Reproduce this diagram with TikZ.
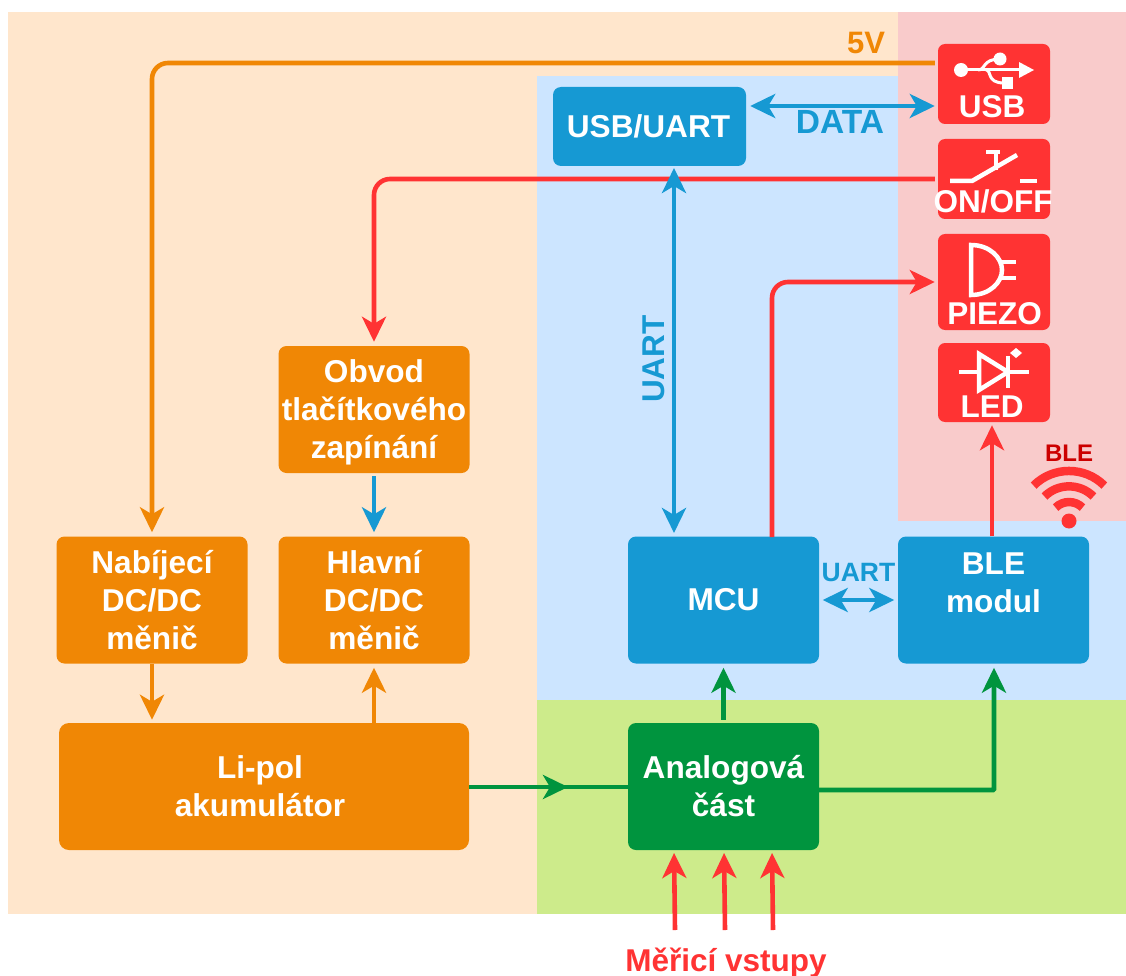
\documentclass[tikz,border=0pt]{standalone}
\usepackage{fontspec}
\setmainfont{Liberation Sans}
\usetikzlibrary{arrows.meta}
\definecolor{bgorange}{HTML}{FFE6CC}
\definecolor{bgblue}{HTML}{CCE5FF}
\definecolor{bgpink}{HTML}{F9CBCB}
\definecolor{bggreen}{HTML}{CDEB8B}
\definecolor{corange}{HTML}{F08705}
\definecolor{cblue}{HTML}{1699D3}
\definecolor{cred}{HTML}{FF3333}
\definecolor{cgreen}{HTML}{00943E}
\definecolor{cdark}{HTML}{CC0000}
\tikzset{
  x=1pt,y=-1pt,
  blocktext/.style={font=\bfseries\fontsize{31.6}{38}\selectfont,text=white,align=center},
  block/.style={blocktext,rounded corners=8pt,inner sep=0pt,minimum width=191pt,minimum height=127pt},
  iconbox/.style={fill=cred,rounded corners=7pt,inner sep=0pt,minimum width=112pt},
  icontext/.style={font=\bfseries\fontsize{31.5}{36}\selectfont,text=white,inner sep=0pt},
  link/.style={line width=4.6pt,rounded corners=16pt,line cap=butt},
  tip/.style={-{Stealth[length=25pt,width=24pt,inset=7pt]}},
  tips/.style={{Stealth[length=25pt,width=24pt,inset=7pt]}-{Stealth[length=25pt,width=24pt,inset=7pt]}},
  gap/.style={shorten >=3.5pt,shorten <=3.5pt},
  sym/.style={draw=white,line width=4.5pt},
  caption/.style={font=\bfseries\fontsize{31.5}{36}\selectfont,inner sep=0pt},
}
\begin{document}
\begin{tikzpicture}
\useasboundingbox (0,0) rectangle (1126,976);
% background regions
\fill[bgorange] (8,12) rectangle (898,76);
\fill[bgorange] (8,76) rectangle (537,914);
\fill[bgblue] (537,76) rectangle (1126,700);
\fill[bggreen] (537,700) rectangle (1126,914);
\fill[bgpink] (898,12) rectangle (1126,521);
% blocks
\node[block,fill=cblue,minimum width=193pt,minimum height=79pt] (usbuart) at (649.5,126.5) {\hspace*{-2pt}\raisebox{-1pt}{USB/UART}};
\node[block,fill=corange] (obvod) at (374,409.5) {Obvod\\tlačítkového\\\smash{zapínání}};
\node[block,fill=corange] (hlavni) at (374,600) {Hlavní\\DC/DC\\měnič};
\node[block,fill=corange] (nabij) at (152,600) {Nabíjecí\\DC/DC\\měnič};
\node[block,fill=corange,minimum width=410pt,rounded corners=10pt] (lipol) at (264,786.5) {\hspace*{-8pt}Li-pol\\\hspace*{-8pt}akumulátor};
\node[block,fill=cblue] (mcu) at (723.5,600) {MCU};
\node[block,fill=cblue] (ble) at (993.5,600) {\rule{0pt}{25pt}BLE\\modul\\\phantom{n}};
\node[block,fill=cgreen] (analog) at (723.5,786.5) {Analogová\\část};
\node[iconbox,minimum height=80pt] (usb) at (994,84) {};
\node[iconbox,minimum height=80pt] (onoff) at (994,179) {};
\node[iconbox,minimum height=96pt] (piezo) at (994,282) {};
\node[iconbox,minimum height=79pt] (led) at (994,382.5) {};
% free ends
\coordinate (in1) at (675,930);
\coordinate (in2) at (725,930);
\coordinate (in3) at (773,930);
% connectors
\draw[link,corange,tip,shorten <=3pt,shorten >=4pt] ([yshift=21pt]usb.west) -- (152,63) -- (nabij.north);
\draw[link,cred,tip,shorten <=3pt,shorten >=4pt] (onoff.west) -- (374,179) -- (obvod.north);
\draw[link,cblue,tips,shorten <=4pt,shorten >=3pt] (usbuart.east |- 0,106) -- (usb.west |- 0,106);
\draw[link,cblue,tips,shorten <=2pt,shorten >=4pt] (674,166) -- (674,537);
\draw[link,cred,tip,shorten >=3pt] (772,537) -- (772,282) -- (piezo.west);
\draw[link,cred,tip,shorten >=3pt] (ble.north -| 992,0) -- (led.south -| 992,0);
\draw[link,cblue,tips,gap] (mcu.east) -- (ble.west);
\draw[link,cblue,tip,shorten <=3pt,shorten >=4pt] (obvod.south) -- (hlavni.north);
\draw[link,corange,tip,shorten >=3pt] (nabij.south) -- (nabij.south |- lipol.north);
\draw[link,corange,tip,shorten >=4pt] (lipol.north -| hlavni.south) -- (hlavni.south);
\draw[link,cgreen] (lipol.east |- 0,787) -- (analog.west |- 0,787);
\draw[link,cgreen,tip] (lipol.east |- 0,787) -- (568,787);
\draw[link,cgreen,tip,shorten <=3pt,shorten >=4pt] (analog.north) -- (mcu.south);
\draw[link,cgreen,tip,rounded corners=1pt,shorten >=4pt] (analog.east |- 0,790) -- (994,790) -- (ble.south -| 994,0);
\draw[link,cred,tip,shorten >=3pt] (in1) -- (674,850);
\draw[link,cred,tip,shorten >=3pt] (in2) -- (724,850);
\draw[link,cred,tip,shorten >=3pt] (in3) -- (772,850);
% labels
\node[caption,font=\bfseries\fontsize{31}{36}\selectfont,text=corange,anchor=base] (l5v) at (866,54) {5V};
\node[caption,font=\bfseries\fontsize{33.5}{38}\selectfont,text=cblue,anchor=base] (ldata) at (840,134) {DATA};
\node[caption,text=cblue,rotate=90,anchor=base] (luart) at (664,359) {UART};
\node[font=\bfseries\fontsize{26.5}{30}\selectfont,text=cblue,anchor=base,inner sep=0pt] (luart2) at (858.5,581) {UART};
\node[font=\bfseries\fontsize{24}{28}\selectfont,text=cdark,anchor=base,inner sep=0pt] (lble) at (1069,461) {BLE};
\node[caption,text=cred,anchor=base] (lmer) at (726,971) {Měřicí vstupy};
\node[icontext,anchor=base] (tusb) at (992,118) {USB};
\node[icontext,anchor=base] (tonoff) at (993,213) {ON/OFF};
\node[icontext,anchor=base] (tpiezo) at (994.5,324) {PIEZO};
\node[icontext,anchor=base] (tled) at (992,417) {LED};
% USB symbol
\fill[white] (961,70) circle (7);
\fill[white] (1000,59) circle (6.5);
\fill[white] (1002,77) rectangle (1013,89);
\fill[white] (1019,62) -- (1034,70) -- (1019,78) -- cycle;
\draw[draw=white,line width=3pt] (961,70) -- (1020,70);
\draw[draw=white,line width=3pt] (978,70) .. controls (986,70) and (982,59) .. (1000,59);
\draw[draw=white,line width=3pt] (986,70) .. controls (992,70) and (986,83) .. (1004,83);
% switch symbol
\draw[sym] (950,181) -- (972,181) -- (1017,155);
\draw[sym] (1020,181) -- (1037,181);
\draw[sym] (986,152) -- (1000,152);
\draw[sym,line width=3.5pt] (996,152) -- (996,170);
% piezo symbol
\draw[sym] (971,245) .. controls (990,245) and (1002,258) .. (1002,270) .. controls (1002,282) and (990,295) .. (971,295) -- cycle;
\draw[sym] (1000,262) -- (1016,262);
\draw[sym] (1000,278) -- (1016,278);
% led symbol
\draw[sym] (959,372) -- (1029,372);
\draw[sym,fill=cred] (979,354) -- (979,390) -- (1008,372) -- cycle;
\draw[sym] (1008,356) -- (1008,388);
\fill[white] (1016,348) -- (1022,353) -- (1016,358) -- (1010,353) -- cycle;
% wireless symbol
\fill[cred] (1069,521) circle (7.5);
\draw[cred,line width=8.5pt] (1069-35.4,521-35.4) arc[start angle=-135,end angle=-45,radius=50];
\draw[cred,line width=8.5pt] (1069-24.5,521-24.5) arc[start angle=-135,end angle=-45,radius=34.6];
\draw[cred,line width=8.5pt] (1069-13.4,521-13.4) arc[start angle=-135,end angle=-45,radius=19];
\end{tikzpicture}
\end{document}
